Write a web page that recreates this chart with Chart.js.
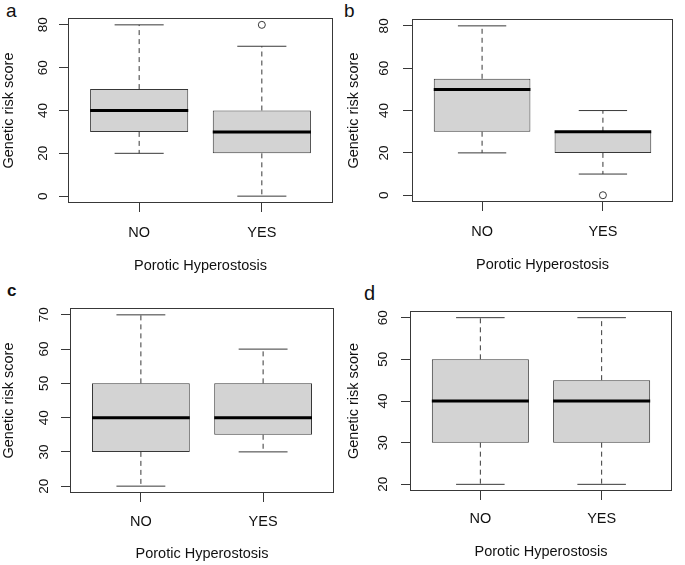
<!DOCTYPE html>
<html>
<head>
<meta charset="utf-8">
<script src="https://cdn.jsdelivr.net/npm/chart.js@4.4.0/dist/chart.umd.min.js"></script>
<style>
  html, body { margin: 0; padding: 0; background: #fff; }
  body { width: 685px; height: 565px; position: relative; overflow: hidden; font-family: 'Liberation Sans', Arial, sans-serif; }
  canvas { position: absolute; }
  .tag { position: absolute; font-size: 19px; line-height: 19px; color: #111; }
</style>
</head>
<body>
<div class="tag" style="left:6px;top:1px">a</div>
<div class="tag" style="left:344px;top:1px">b</div>
<div class="tag" style="left:7px;top:281px;font-weight:bold;font-size:17px">c</div>
<div class="tag" style="left:364px;top:284px;font-size:20px">d</div>

<canvas id="chartA" width="342" height="282" style="left:0;top:0"></canvas>
<canvas id="chartB" width="340" height="282" style="left:345px;top:0"></canvas>
<canvas id="chartC" width="342" height="283" style="left:0;top:282px"></canvas>
<canvas id="chartD" width="340" height="283" style="left:345px;top:282px"></canvas>

<script>
var groups = ['NO', 'YES'];

// a
var aMin = [20, 0];
var aQ1 = [30, 20];
var aMedian = [40, 30];
var aQ3 = [50, 40];
var aMax = [80, 70];
var aOutliers = [[], [80]];
var aTicks = [0, 20, 40, 60, 80];

// b
var bMin = [20, 10];
var bQ1 = [30, 20];
var bMedian = [50, 30];
var bQ3 = [55, 30];
var bMax = [80, 40];
var bOutliers = [[], [0]];
var bTicks = [0, 20, 40, 60, 80];

// c
var cMin = [20, 30];
var cQ1 = [30, 35];
var cMedian = [40, 40];
var cQ3 = [50, 50];
var cMax = [70, 60];
var cOutliers = [[], []];
var cTicks = [20, 30, 40, 50, 60, 70];

// d
var dMin = [20, 20];
var dQ1 = [30, 30];
var dMedian = [40, 40];
var dQ3 = [50, 45];
var dMax = [60, 60];
var dOutliers = [[], []];
var dTicks = [20, 30, 40, 50, 60];

var ink = '#111';
var lineColor = '#383838';
var fontFamily = "'Liberation Sans', Arial, sans-serif";

// box around the plot area, like R's box()
var framePlugin = {
  id: 'frame',
  afterDatasetsDraw: function(chart) {
    var a = chart.chartArea;
    var ctx = chart.ctx;
    ctx.save();
    ctx.strokeStyle = lineColor;
    ctx.lineWidth = 1;
    ctx.strokeRect(Math.round(a.left) + 0.5, Math.round(a.top) + 0.5,
      Math.round(a.right - a.left) - 1, Math.round(a.bottom - a.top) - 1);
    ctx.restore();
  }
};

function boxplot(id, mins, q1, med, q3, maxs, outliers, ticks, lay) {
  var all = mins.concat(maxs);
  outliers.forEach(function(o) { all = all.concat(o); });
  var lo = Math.min.apply(null, all);
  var hi = Math.max.apply(null, all);
  var ext = (hi - lo) * 0.04;

  var boxes = [], whiskers = [], caps = [], medians = [], points = [];
  groups.forEach(function(g, i) {
    var x = i + 1;
    boxes.push({ x: x, y: [q1[i], q3[i]] });
    whiskers.push({ x: x, y: q3[i] }, { x: x, y: maxs[i] }, { x: x, y: null },
      { x: x, y: q1[i] }, { x: x, y: mins[i] }, { x: x, y: null });
    caps.push({ x: x - 0.2, y: maxs[i] }, { x: x + 0.2, y: maxs[i] }, { x: x, y: null },
      { x: x - 0.2, y: mins[i] }, { x: x + 0.2, y: mins[i] }, { x: x, y: null });
    medians.push({ x: x - 0.4, y: med[i] }, { x: x + 0.4, y: med[i] }, { x: x, y: null });
    outliers[i].forEach(function(v) { points.push({ x: x, y: v }); });
  });

  var lineDefaults = { type: 'line', pointRadius: 0, fill: false, spanGaps: false, tension: 0 };

  new Chart(document.getElementById(id), {
    type: 'bar',
    data: {
      datasets: [
        {
          data: boxes,
          backgroundColor: '#d3d3d3',
          borderColor: lineColor,
          borderWidth: 1,
          borderSkipped: false,
          barPercentage: 0.8,
          categoryPercentage: 1,
          order: 4
        },
        Object.assign({ data: whiskers, borderColor: lineColor, borderWidth: 1, borderDash: [5, 4], order: 3 }, lineDefaults),
        Object.assign({ data: caps, borderColor: lineColor, borderWidth: 1, order: 2 }, lineDefaults),
        Object.assign({ data: medians, borderColor: '#000', borderWidth: 3, borderCapStyle: 'butt', order: 1 }, lineDefaults),
        {
          type: 'scatter',
          data: points,
          pointRadius: 3.5,
          pointBorderWidth: 1,
          pointBackgroundColor: 'rgba(0,0,0,0)',
          pointBorderColor: lineColor,
          order: 0
        }
      ]
    },
    options: {
      responsive: false,
      animation: false,
      events: [],
      layout: { padding: { top: lay.top, right: lay.right, left: 0, bottom: 0 } },
      plugins: { legend: { display: false }, tooltip: { enabled: false } },
      scales: {
        x: {
          type: 'linear',
          bounds: 'data',
          offset: false,
          min: 1 - 0.5 - 0.04 * groups.length,
          max: groups.length + 0.5 + 0.04 * groups.length,
          afterBuildTicks: function(axis) {
            axis.ticks = groups.map(function(g, i) { return { value: i + 1 }; });
          },
          afterFit: function(axis) { axis.height = lay.xh; },
          ticks: {
            autoSkip: false,
            maxRotation: 0,
            padding: lay.xPad,
            color: ink,
            font: { family: fontFamily, size: 14.5 },
            callback: function(value) { return groups[Math.round(value) - 1]; }
          },
          grid: { offset: false, drawOnChartArea: false, tickLength: 9, color: lineColor },
          border: { display: false },
          title: {
            display: true,
            text: 'Porotic Hyperostosis',
            color: ink,
            font: { family: fontFamily, size: 14.5 },
            padding: { top: 0, bottom: lay.titlePad }
          }
        },
        y: {
          type: 'linear',
          bounds: 'data',
          beginAtZero: false,
          min: lo - ext,
          max: hi + ext,
          afterBuildTicks: function(axis) {
            axis.ticks = ticks.map(function(v) { return { value: v }; });
          },
          afterFit: function(axis) { axis.width = lay.yw; },
          ticks: {
            autoSkip: false,
            minRotation: 90,
            maxRotation: 90,
            crossAlign: 'center',
            padding: lay.yPad,
            color: ink,
            font: { family: fontFamily, size: 13.5 }
          },
          grid: { drawOnChartArea: false, tickLength: 9, color: lineColor },
          border: { display: false },
          title: {
            display: true,
            text: 'Genetic risk score',
            color: ink,
            font: { family: fontFamily, size: 14.5 },
            padding: { top: 0, bottom: 0 }
          }
        }
      }
    },
    plugins: [framePlugin]
  });
}

boxplot('chartA', aMin, aQ1, aMedian, aQ3, aMax, aOutliers, aTicks,
  { top: 18, right: 9, yw: 68, xh: 79, yPad: 8, xPad: 12, titlePad: 7 });
boxplot('chartB', bMin, bQ1, bMedian, bQ3, bMax, bOutliers, bTicks,
  { top: 14, right: 12, yw: 67, xh: 80, yPad: 11, xPad: 12, titlePad: 8 });
boxplot('chartC', cMin, cQ1, cMedian, cQ3, cMax, cOutliers, cTicks,
  { top: 26, right: 8, yw: 70, xh: 72, yPad: 9, xPad: 11, titlePad: 2 });
boxplot('chartD', dMin, dQ1, dMedian, dQ3, dMax, dOutliers, dTicks,
  { top: 29, right: 13, yw: 65, xh: 74, yPad: 10, xPad: 10, titlePad: 4 });
</script>
</body>
</html>
